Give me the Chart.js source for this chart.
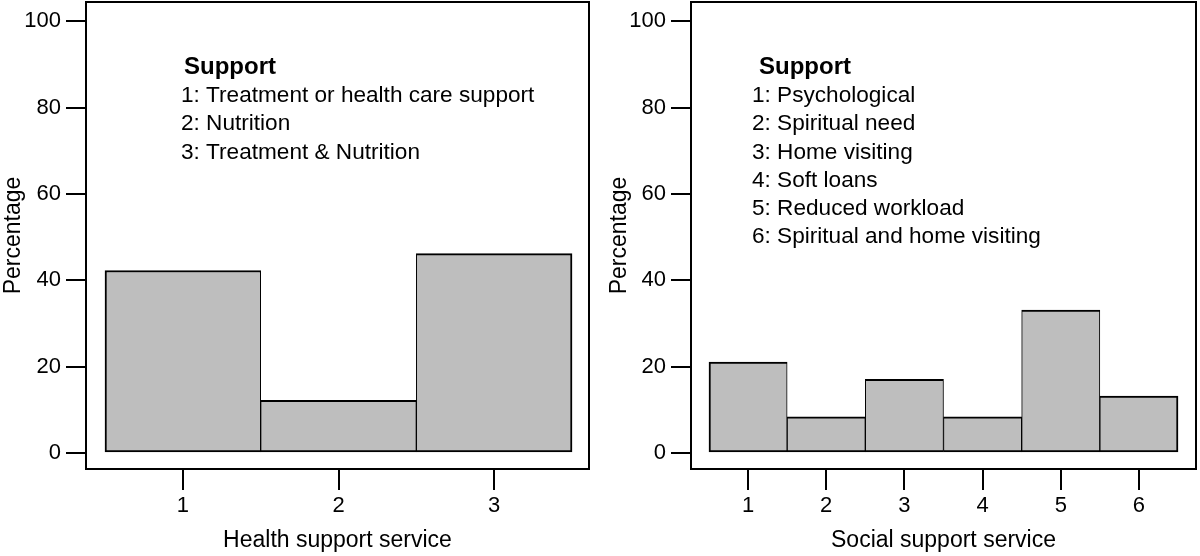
<!DOCTYPE html>
<html lang="en">
<head>
<meta charset="UTF-8">
<title>Health and social support services</title>
<script src="https://cdn.jsdelivr.net/npm/chart.js"></script>
<style>
  body { margin: 0; background: #fff; }
  #wrap { position: relative; width: 1200px; height: 556px; }
  canvas { position: absolute; top: 0; }
  #health { left: 0; }
  #social { left: 600px; }
</style>
</head>
<body>
<div id="wrap">
  <canvas id="health" width="600" height="556"></canvas>
  <canvas id="social" width="600" height="556"></canvas>
</div>
<script>
// values (percent)
const healthCategories = [1, 2, 3];
const healthValues = [42.3, 12.2, 46.2];
const healthLegend = [
  '1: Treatment or health care support',
  '2: Nutrition',
  '3: Treatment & Nutrition'
];

const socialCategories = [1, 2, 3, 4, 5, 6];
const socialValues = [21.1, 8.4, 17.1, 8.4, 33.1, 13.2];
const socialLegend = [
  '1: Psychological',
  '2: Spiritual need',
  '3: Home visiting',
  '4: Soft loans',
  '5: Reduced workload',
  '6: Spiritual and home visiting'
];

const yTicks = [0, 20, 40, 60, 80, 100];
const legendTitle = 'Support';
const yTitle = 'Percentage';

const FONT = "Arial, 'Liberation Sans', sans-serif";
const tickFont = { family: FONT, size: 22 };
const titleFont = { family: FONT, size: 23 };

// frame around the plot area
const boxPlugin = {
  id: 'box',
  afterDraw(chart) {
    const { ctx, chartArea: a } = chart;
    ctx.save();
    ctx.strokeStyle = '#000';
    ctx.lineWidth = 2;
    ctx.strokeRect(a.left, a.top, a.right - a.left, a.bottom - a.top);
    ctx.restore();
  }
};

// the "Support" key written inside the plot
const keyPlugin = {
  id: 'supportKey',
  afterDraw(chart, args, opts) {
    const ctx = chart.ctx;
    ctx.save();
    ctx.fillStyle = '#000';
    ctx.textAlign = 'left';
    ctx.textBaseline = 'alphabetic';
    ctx.font = 'bold 24px ' + FONT;
    ctx.fillText(opts.title, opts.titleX, opts.firstY);
    ctx.font = '22.6px ' + FONT;
    opts.lines.forEach((t, i) => {
      ctx.fillText(t, opts.itemX, opts.firstY + 28.2 * (i + 1));
    });
    ctx.restore();
  }
};

function makeChart(id, cats, vals, opt) {
  const last = cats.length - 1;
  return new Chart(document.getElementById(id), {
    type: 'bar',
    data: {
      datasets: [{
        data: cats.map((c, i) => ({ x: c, y: vals[i] })),
        backgroundColor: '#bebebe',
        borderColor: '#000',
        borderSkipped: false,
        borderWidth: c => ({
          top: 2, bottom: 2,
          left: c.dataIndex === 0 ? 2 : 1,
          right: c.dataIndex === last ? 2 : 1
        }),
        barPercentage: 1,
        categoryPercentage: 1
      }]
    },
    options: {
      responsive: false,
      animation: false,
      layout: { padding: { top: 2, right: opt.padRight, left: 0, bottom: 0 } },
      plugins: {
        legend: { display: false },
        tooltip: { enabled: false },
        supportKey: {
          title: legendTitle,
          lines: opt.legend,
          titleX: opt.titleX,
          itemX: opt.itemX,
          firstY: 74
        }
      },
      scales: {
        x: {
          type: 'linear',
          min: opt.xMin,
          max: opt.xMax,
          offset: false,
          afterBuildTicks: s => { s.ticks = cats.map(v => ({ value: v })); },
          afterFit: s => { s.height = 87; s.paddingLeft = 0; s.paddingRight = 0; },
          grid: { offset: false, drawOnChartArea: false, drawTicks: true, tickLength: 21, lineWidth: 2, color: '#000' },
          border: { display: false },
          ticks: { color: '#000', font: tickFont, padding: 3, maxRotation: 0, autoSkip: false },
          title: { display: true, text: opt.xTitle, color: '#000', font: titleFont, padding: { top: 0, bottom: 2 } }
        },
        y: {
          min: -3.7,
          max: 104.5,
          afterBuildTicks: s => { s.ticks = yTicks.map(v => ({ value: v })); },
          afterFit: s => { s.width = opt.yWidth; s.paddingTop = 0; s.paddingBottom = 0; },
          grid: { drawOnChartArea: false, drawTicks: true, tickLength: 20, lineWidth: 2, color: '#000' },
          border: { display: false },
          ticks: { color: '#000', font: tickFont, padding: 5 },
          title: { display: true, text: yTitle, color: '#000', font: titleFont, padding: { top: opt.yTitlePad, bottom: 0 } }
        }
      }
    },
    plugins: [boxPlugin, keyPlugin]
  });
}

makeChart('health', healthCategories, healthValues, {
  xMin: 0.378, xMax: 3.609, yWidth: 86, padRight: 11, yTitlePad: 0,
  xTitle: 'Health support service', legend: healthLegend, titleX: 184, itemX: 181
});

makeChart('social', socialCategories, socialValues, {
  xMin: 0.27, xMax: 6.73, yWidth: 91, padRight: 4, yTitlePad: 6,
  xTitle: 'Social support service', legend: socialLegend, titleX: 159, itemX: 152
});
</script>
</body>
</html>
